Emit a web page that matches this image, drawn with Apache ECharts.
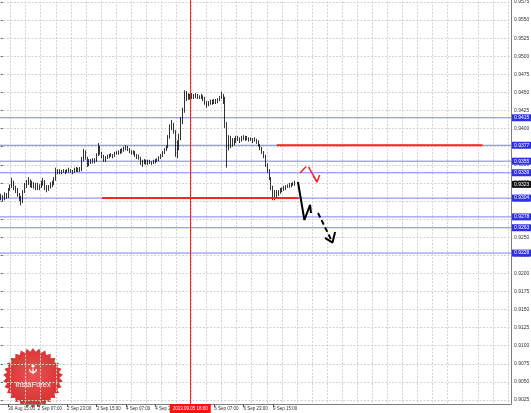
<!DOCTYPE html>
<html><head><meta charset="utf-8">
<script src="https://cdn.jsdelivr.net/npm/echarts@6/dist/echarts.min.js"></script>
<style>html,body{margin:0;padding:0;background:#fff}#c{width:531px;height:413px}</style>
</head><body><div id="c"></div>
<script>
// ---------- DATA ----------
const firstOpen = 0.9302;
const closes = [
0.9306,0.9303,0.9310,0.9306,0.9315,0.9321,0.9325,0.9318,0.9315,0.9308,
0.9304,0.9299,0.9312,0.9321,0.9325,0.9329,0.9322,0.9323,0.9319,0.9322,
0.9318,0.9321,0.9323,0.9329,0.9319,0.9315,0.9319,0.9322,0.9325,0.9329,
0.9341,0.9340,0.9341,0.9340,0.9341,0.9340,0.9341,0.9343,0.9341,0.9340,
0.9343,0.9344,0.9343,0.9344,0.9357,0.9368,0.9359,0.9350,0.9355,0.9354,
0.9357,0.9355,0.9364,0.9376,0.9366,0.9362,0.9357,0.9359,0.9361,0.9362,
0.9364,0.9362,0.9365,0.9366,0.9368,0.9369,0.9370,0.9372,0.9375,0.9372,
0.9369,0.9366,0.9368,0.9364,0.9361,0.9359,0.9354,0.9352,0.9355,0.9354,
0.9352,0.9354,0.9352,0.9354,0.9355,0.9357,0.9359,0.9362,0.9366,0.9370,
0.9375,0.9387,0.9401,0.9406,0.9397,0.9377,0.9373,0.9387,0.9409,0.9423,
0.9445,0.9442,0.9445,0.9444,0.9446,0.9445,0.9446,0.9445,0.9444,0.9445,
0.9442,0.9435,0.9433,0.9434,0.9437,0.9435,0.9438,0.9437,0.9440,0.9442,
0.9446,0.9442,0.9405,0.9380,0.9387,0.9377,0.9384,0.9382,0.9387,0.9386,
0.9383,0.9387,0.9388,0.9386,0.9387,0.9384,0.9386,0.9383,0.9384,0.9382,
0.9377,0.9373,0.9368,0.9362,0.9350,0.9343,0.9332,0.9318,0.9312,0.9307,
0.9310,0.9312,0.9315,0.9317,0.9318,0.9319,0.9321,0.9322,0.9322,0.9323,0.9323];
const highs = [
0.9310,0.9308,0.9312,0.9311,0.9318,0.9323,0.9332,0.9328,0.9321,0.9318,
0.9311,0.9307,0.9315,0.9325,0.9329,0.9333,0.9330,0.9328,0.9326,0.9325,
0.9325,0.9323,0.9328,0.9332,0.9329,0.9322,0.9322,0.9326,0.9328,0.9333,
0.9346,0.9344,0.9344,0.9343,0.9344,0.9343,0.9344,0.9346,0.9344,0.9343,
0.9346,0.9347,0.9346,0.9347,0.9361,0.9372,0.9370,0.9361,0.9358,0.9358,
0.9359,0.9359,0.9366,0.9380,0.9376,0.9368,0.9364,0.9362,0.9364,0.9365,
0.9366,0.9365,0.9368,0.9369,0.9370,0.9372,0.9373,0.9375,0.9377,0.9376,
0.9373,0.9370,0.9370,0.9369,0.9365,0.9364,0.9361,0.9357,0.9358,0.9357,
0.9357,0.9357,0.9355,0.9357,0.9358,0.9359,0.9362,0.9365,0.9369,0.9373,
0.9377,0.9391,0.9406,0.9412,0.9408,0.9398,0.9384,0.9393,0.9416,0.9429,
0.9453,0.9452,0.9449,0.9448,0.9449,0.9448,0.9449,0.9448,0.9446,0.9448,
0.9446,0.9444,0.9438,0.9438,0.9440,0.9440,0.9441,0.9441,0.9442,0.9445,
0.9451,0.9448,0.9444,0.9409,0.9391,0.9390,0.9387,0.9387,0.9390,0.9390,
0.9388,0.9390,0.9391,0.9390,0.9390,0.9388,0.9388,0.9387,0.9388,0.9386,
0.9384,0.9379,0.9375,0.9369,0.9364,0.9352,0.9344,0.9333,0.9321,0.9315,
0.9315,0.9315,0.9318,0.9319,0.9321,0.9322,0.9323,0.9325,0.9325,0.9326,0.9328];
const lows = [
0.9301,0.9300,0.9301,0.9303,0.9304,0.9314,0.9318,0.9315,0.9311,0.9306,
0.9300,0.9294,0.9297,0.9311,0.9318,0.9322,0.9319,0.9318,0.9317,0.9315,
0.9315,0.9315,0.9318,0.9321,0.9315,0.9312,0.9314,0.9317,0.9319,0.9322,
0.9328,0.9337,0.9337,0.9337,0.9339,0.9337,0.9339,0.9339,0.9339,0.9337,
0.9339,0.9340,0.9340,0.9340,0.9341,0.9355,0.9357,0.9347,0.9348,0.9351,
0.9352,0.9352,0.9354,0.9362,0.9364,0.9359,0.9354,0.9354,0.9358,0.9359,
0.9361,0.9359,0.9361,0.9364,0.9364,0.9365,0.9366,0.9368,0.9370,0.9369,
0.9366,0.9364,0.9364,0.9361,0.9358,0.9357,0.9350,0.9347,0.9351,0.9350,
0.9350,0.9351,0.9350,0.9351,0.9352,0.9354,0.9355,0.9358,0.9361,0.9365,
0.9369,0.9373,0.9386,0.9398,0.9393,0.9361,0.9359,0.9370,0.9384,0.9406,
0.9422,0.9438,0.9440,0.9440,0.9441,0.9441,0.9442,0.9441,0.9441,0.9441,
0.9438,0.9433,0.9429,0.9431,0.9433,0.9433,0.9434,0.9434,0.9435,0.9438,
0.9441,0.9434,0.9401,0.9346,0.9370,0.9373,0.9375,0.9377,0.9380,0.9383,
0.9380,0.9382,0.9384,0.9383,0.9384,0.9382,0.9383,0.9380,0.9382,0.9379,
0.9375,0.9370,0.9365,0.9359,0.9347,0.9339,0.9329,0.9315,0.9301,0.9301,
0.9304,0.9307,0.9310,0.9312,0.9314,0.9315,0.9318,0.9318,0.9319,0.9321,0.9321];

const levelValues = [0.9415, 0.9377, 0.9355, 0.9339, 0.9304, 0.9278, 0.9263, 0.9228];
const currentPrice = 0.9323;
const redLevelUpper = [[150, 0.9377], [262, 0.9377]];
const redLevelLower = [[55, 0.9304], [162, 0.9304]];
const redPath = [[162.7, 0.93387], [166.8, 0.93497], [172.0, 0.93262]];
const redHead = [[170.1, 0.93345], [172.0, 0.93262], [173.4, 0.93359]];
const blackPath = [[161.6, 0.93262], [165.1, 0.92737], [168.2, 0.92945], [168.7, 0.92834]];
const blackDash = [[172.5, 0.92834], [180.4, 0.92426]];
const blackHead = [[176.3, 0.92489], [180.4, 0.92426], [181.8, 0.92571]];
const crosshairBar = 103;
const yMin = 0.9000, yMax = 0.9600, yStep = 0.0025;
const firstBarUTC = Date.UTC(2013, 7, 30, 11);
const labelEvery = 16, labelOffset = 4;

// ---------- BUILD ----------
const N = 278;
const months = ['Jan','Feb','Mar','Apr','May','Jun','Jul','Aug','Sep','Oct','Nov','Dec'];
const pad = n => (n < 10 ? '0' : '') + n;
const times = [];
for (let t = firstBarUTC; times.length < N; t += 3600000) {
  const d = new Date(t); const wd = d.getUTCDay();
  if (wd !== 0 && wd !== 6) times.push(d);
}
const categories = times.map(d => d.getUTCDate() + ' ' + months[d.getUTCMonth()] + ' ' + pad(d.getUTCHours()) + ':00');
const cd = times[crosshairBar];
const crossText = cd.getUTCFullYear() + '.' + pad(cd.getUTCMonth() + 1) + '.' + pad(cd.getUTCDate()) + ' ' + pad(cd.getUTCHours()) + ':00';

const ohlc = closes.map((c, i) => [i === 0 ? firstOpen : closes[i - 1], c, lows[i], highs[i]]);
const showLabel = i => i % labelEvery === labelOffset && i < closes.length;

const FONT = 'Liberation Sans';
const levelSeries = (v, lineColor, boxColor, z) => ({
  type: 'line', xAxisIndex: 1, yAxisIndex: 0, z: z, silent: true,
  data: [[-0.5, v], [N - 0.5, v]], symbol: 'none',
  lineStyle: { color: lineColor, width: lineColor ? 1 : 0, opacity: lineColor ? 1 : 0 },
  endLabel: { show: true, distance: 1, formatter: v.toFixed(4), color: '#fff',
    backgroundColor: boxColor, fontSize: 5, fontFamily: FONT, padding: [1, 2, 1, 2] }
});

// logo starburst
const star = [];
for (let k = 0; k < 60; k++) {
  const a = k * Math.PI / 30, r = k % 2 ? 26.5 : 30;
  star.push([Math.sin(a) * r, -Math.cos(a) * r]);
}

const gridTop = 2 - (yMax - 0.9575) / yStep * 18.09;
const gridBottomPx = 2 + (0.9575 - yMin) / yStep * 18.09;
const vGridLeft = 10.6 - 15.07;
const vGridSpan = (511 - vGridLeft) / 15.07;
const gridLine = { color: '#d2d2d2', width: 1, type: [2, 1.5] };

const series = [
  { type: 'candlestick', xAxisIndex: 0, yAxisIndex: 0, data: ohlc, barWidth: 1.3, z: 3,
    itemStyle: { color: '#fff', color0: '#000', borderColor: '#000', borderColor0: '#000', borderWidth: 0.8 } }
];
levelValues.forEach(v => series.push(levelSeries(v, '#7f7ff6', '#2f2fe6', 2)));
series.push(levelSeries(currentPrice, null, '#111', 2));
series.push(
  { type: 'line', xAxisIndex: 1, yAxisIndex: 0, data: redLevelUpper, symbol: 'none',
    lineStyle: { color: '#f22', width: 2 }, z: 5 },
  { type: 'line', xAxisIndex: 1, yAxisIndex: 0, data: redLevelLower, symbol: 'none',
    lineStyle: { color: '#f22', width: 2 }, z: 5 },
  { type: 'line', xAxisIndex: 1, yAxisIndex: 0, data: redPath, symbol: 'none',
    lineStyle: { color: '#f22', width: 1.5, type: [9, 4, 40, 4] }, z: 6 },
  { type: 'line', xAxisIndex: 1, yAxisIndex: 0, data: redHead, symbol: 'none',
    lineStyle: { color: '#f22', width: 1.5 }, z: 6 },
  { type: 'line', xAxisIndex: 1, yAxisIndex: 0, data: blackPath, symbol: 'none',
    lineStyle: { color: '#000', width: 2 }, z: 6 },
  { type: 'line', xAxisIndex: 1, yAxisIndex: 0, data: blackDash, symbol: 'none',
    lineStyle: { color: '#000', width: 2, type: [5, 3] }, z: 6 },
  { type: 'line', xAxisIndex: 1, yAxisIndex: 0, data: blackHead, symbol: 'none',
    lineStyle: { color: '#000', width: 2 }, z: 6 },
  { type: 'line', xAxisIndex: 2, yAxisIndex: 1, data: [],
    markLine: { symbol: 'none', silent: true, animation: false,
      lineStyle: { color: '#ff2020', width: 1, type: 'solid' },
      label: { show: true, position: 'start', distance: 0, formatter: crossText, color: '#fff',
        backgroundColor: '#ff1010', fontSize: 4.5, fontFamily: FONT, padding: [2, 3, 2, 3] },
      data: [{ xAxis: crosshairBar }] }, z: 7 }
);

const option = {
  animation: false,
  backgroundColor: '#fff',
  grid: [
    { left: 0, right: 20, top: gridTop, bottom: 413 - gridBottomPx, containLabel: false, outerBoundsMode: 'none' },
    { left: 0, right: 20, top: -2, bottom: 9, containLabel: false, outerBoundsMode: 'none' },
    { left: vGridLeft, right: 20, top: -2, bottom: 9, containLabel: false, outerBoundsMode: 'none' }
  ],
  xAxis: [
    { gridIndex: 0, type: 'category', data: categories, boundaryGap: true, show: false },
    { gridIndex: 0, type: 'value', min: -0.5, max: N - 0.5, show: false },
    { gridIndex: 1, type: 'category', data: categories, boundaryGap: true,
      axisLine: { show: true, lineStyle: { color: '#7d7d7d', width: 1 } },
      axisTick: { show: true, interval: showLabel, alignWithLabel: true, length: 3, lineStyle: { color: '#555' } },
      axisLabel: { show: true, interval: showLabel, align: 'left', margin: 2, fontSize: 4.5, color: '#333', fontFamily: FONT },
      splitLine: { show: false } },
    { gridIndex: 2, type: 'value', min: 0, max: vGridSpan, interval: 1,
      axisLine: { show: false }, axisTick: { show: false }, axisLabel: { show: false },
      splitLine: { show: true, lineStyle: gridLine } }
  ],
  yAxis: [
    { gridIndex: 0, type: 'value', position: 'right', min: yMin, max: yMax, interval: yStep,
      axisLine: { show: false }, axisTick: { show: true, length: 2, lineStyle: { color: '#666' } },
      axisLabel: { show: true, margin: 3, fontSize: 5, color: '#333', fontFamily: FONT, formatter: v => v.toFixed(4) },
      splitLine: { show: true, lineStyle: gridLine } },
    { gridIndex: 1, type: 'value', position: 'right', min: 0, max: 1,
      axisLine: { show: true, lineStyle: { color: '#7d7d7d', width: 1 } },
      axisTick: { show: false }, axisLabel: { show: false }, splitLine: { show: false } },
    { gridIndex: 2, type: 'value', min: 0, max: 1, show: false }
  ],
  series: series,
  graphic: [{
    type: 'group', x: 33, y: 378, z: 100,
    children: [
      { type: 'polygon', shape: { points: star },
        style: { fill: { type: 'radial', x: 0.5, y: 0.45, r: 0.55,
          colorStops: [{ offset: 0, color: '#ea5454' }, { offset: 1, color: '#d62f2f' }] } } },
      { type: 'circle', shape: { cx: 0, cy: -12, r: 1.6 }, style: { fill: '#fff' } },
      { type: 'arc', shape: { cx: 0, cy: -9, r: 3.4, startAngle: 0, endAngle: Math.PI },
        style: { stroke: '#fff', lineWidth: 1.2, fill: null } },
      { type: 'line', shape: { x1: 0, y1: -9.5, x2: 0, y2: -4 }, style: { stroke: '#fff', lineWidth: 1.2 } },
      { type: 'text', style: { text: 'InstaForex', x: 0, y: 7, fill: '#fff', fontSize: 7.5,
        fontFamily: FONT, align: 'center', verticalAlign: 'middle' } }
    ]
  }]
};

const chart = echarts.init(document.getElementById('c'), null, { renderer: 'canvas' });
chart.setOption(option);
</script>
</body></html>
